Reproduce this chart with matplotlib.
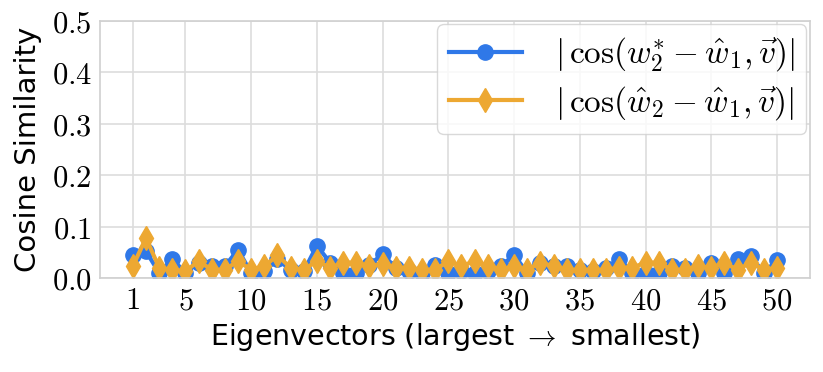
import numpy as np
import matplotlib
matplotlib.use("Agg")
import matplotlib.pyplot as plt

plt.rcParams['mathtext.fontset'] = 'cm'
plt.rcParams['font.family'] = ['DejaVu Sans']

eig_idx = np.arange(1, 51)
blue_vals = [0.045, 0.052, 0.010, 0.037, 0.010, 0.030, 0.023, 0.023, 0.055, 0.010,
             0.013, 0.036, 0.016, 0.013, 0.063, 0.030, 0.010, 0.010, 0.026, 0.046,
             0.020, 0.013, 0.010, 0.026, 0.010, 0.013, 0.010, 0.013, 0.023, 0.045,
             0.010, 0.030, 0.023, 0.023, 0.016, 0.013, 0.020, 0.037, 0.010, 0.010,
             0.010, 0.023, 0.020, 0.010, 0.030, 0.010, 0.036, 0.042, 0.010, 0.035]
orange_vals = [0.023, 0.078, 0.020, 0.016, 0.013, 0.033, 0.016, 0.016, 0.033, 0.016,
               0.023, 0.044, 0.020, 0.016, 0.033, 0.020, 0.030, 0.030, 0.023, 0.028,
               0.020, 0.020, 0.016, 0.016, 0.033, 0.023, 0.033, 0.023, 0.016, 0.023,
               0.016, 0.030, 0.023, 0.016, 0.016, 0.016, 0.016, 0.020, 0.020, 0.030,
               0.030, 0.016, 0.016, 0.023, 0.020, 0.030, 0.016, 0.030, 0.016, 0.020]
xticks = [1, 5, 10, 15, 20, 25, 30, 35, 40, 45, 50]
yticks = [0.0, 0.1, 0.2, 0.3, 0.4, 0.5]

blue = '#2f78e8'
orange = '#eda832'

fig = plt.figure(figsize=(8.23, 3.72), dpi=100)
ax = fig.add_axes([0.1215, 0.2527, 0.8625, 0.6908])

ax.plot(eig_idx, blue_vals, color=blue, marker='o', lw=3, ms=11,
        label=r'$|\,\cos(w_2^{*} - \hat{w}_1, \vec{v})|$')
ax.plot(eig_idx, orange_vals, color=orange, marker='d', lw=3, ms=12,
        label=r'$|\,\cos(\hat{w}_2 - \hat{w}_1, \vec{v})|$')

ax.set_xlim(-1.5, 52.5)
ax.set_ylim(0, 0.5)
ax.set_xticks(xticks)
ax.set_yticks(yticks)
ax.set_xticklabels([f'${t}$' for t in xticks])
ax.set_yticklabels([f'${t:.1f}$' for t in yticks])
ax.tick_params(labelsize=22, length=0, pad=6)
ax.grid(True, color='#dddddd', lw=1.2)
ax.set_axisbelow(True)
for s in ax.spines.values():
    s.set_color('#d0d0d0')
    s.set_linewidth(1.2)

ax.set_xlabel('Eigenvectors (largest $\\rightarrow$ smallest)', fontsize=20.5, labelpad=4)
ax.set_ylabel('Cosine Similarity', fontsize=21, labelpad=7)

leg = ax.legend(loc='upper right', fontsize=24, frameon=True, fancybox=True,
                borderaxespad=0.1, handlelength=2.2, handletextpad=1.0,
                labelspacing=0.3, borderpad=0.35)
leg.get_frame().set_edgecolor('#d0d0d0')
leg.get_frame().set_alpha(0.8)

fig.savefig('out.png', dpi=100)
